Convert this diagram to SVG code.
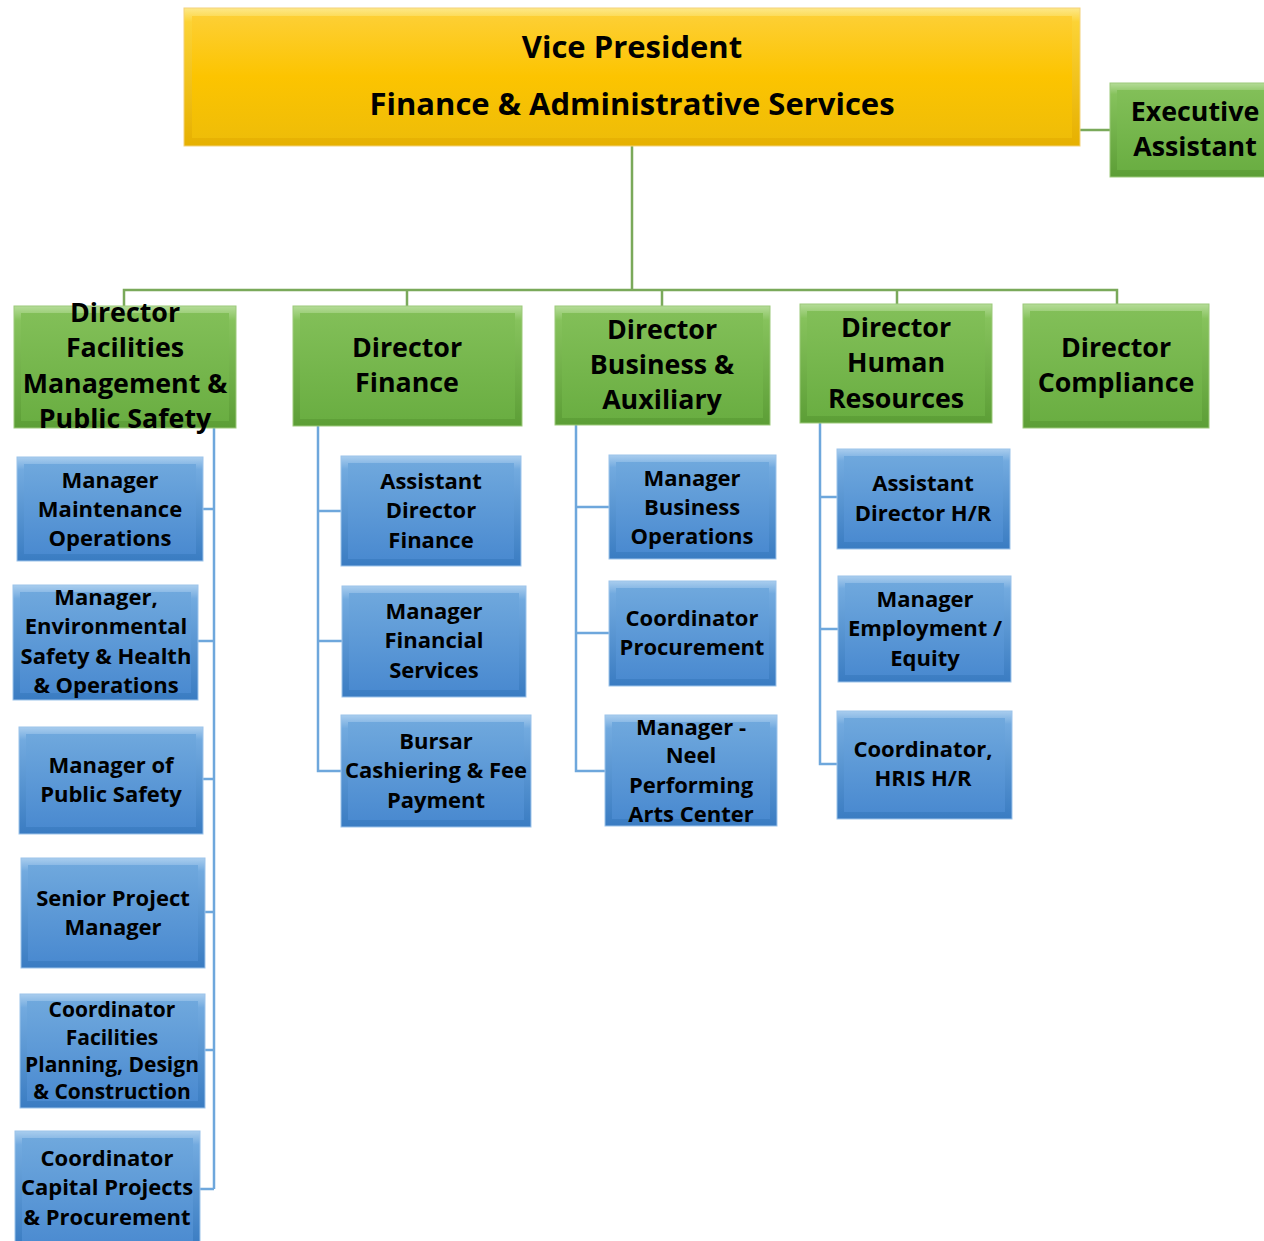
<svg xmlns="http://www.w3.org/2000/svg" width="1264" height="1241" viewBox="0 0 1264 1241">
<defs>
<linearGradient id="yO" x1="0" y1="0" x2="0" y2="1"><stop offset="0" stop-color="#fde88a"/><stop offset="0.1" stop-color="#fcd336"/><stop offset="1" stop-color="#e6b000"/></linearGradient>
<linearGradient id="yI" x1="0" y1="0" x2="0" y2="1"><stop offset="0" stop-color="#fdcf34"/><stop offset="0.5" stop-color="#fcc400"/><stop offset="1" stop-color="#efbd08"/></linearGradient>
<linearGradient id="gO" x1="0" y1="0" x2="0" y2="1"><stop offset="0" stop-color="#b5dc98"/><stop offset="0.12" stop-color="#86c25c"/><stop offset="1" stop-color="#5c9e36"/></linearGradient>
<linearGradient id="gI" x1="0" y1="0" x2="0" y2="1"><stop offset="0" stop-color="#82bf58"/><stop offset="1" stop-color="#6aae42"/></linearGradient>
<linearGradient id="bO" x1="0" y1="0" x2="0" y2="1"><stop offset="0" stop-color="#a9cdee"/><stop offset="0.12" stop-color="#72aadf"/><stop offset="1" stop-color="#3a7cc2"/></linearGradient>
<linearGradient id="bI" x1="0" y1="0" x2="0" y2="1"><stop offset="0" stop-color="#6fa8dd"/><stop offset="1" stop-color="#4a8ad0"/></linearGradient>
</defs>
<style>
.t{font-family:"Open Sans","Noto Sans","DejaVu Sans",sans-serif;font-weight:bold;fill:#000;text-anchor:middle}
.tv{font-size:31px}
.tg{font-size:26.8px}
.tb{font-size:22px}
.ts{font-size:21px}
.gc{fill:none;stroke:#7aa95a;stroke-width:2.5}
.bc{fill:none;stroke:#6ea7dc;stroke-width:2.5}
.yo{fill:url(#yO);stroke:#f3d27a;stroke-width:1}
.yi{fill:url(#yI)}
.go{fill:url(#gO);stroke:#9cc97a;stroke-width:1}
.gi{fill:url(#gI)}
.bo{fill:url(#bO);stroke:#9cc3ea;stroke-width:1}
.bi{fill:url(#bI)}
</style>
<g id="connectors">
<path class="gc" d="M632 146 V290 M124 306 V290 H1117 V306 M407 290 V306 M662 290 V306 M897 290 V304 M1080 130 H1110"/>
<path class="bc" d="M214 428 V1189 M203 509 H214 M198 641 H214 M203 779 H214 M205 912 H214 M205 1050 H214 M200 1189 H214"/>
<path class="bc" d="M318 426 V771 H341 M318 511 H341 M318 641 H342"/>
<path class="bc" d="M576 425 V771 H605 M576 507 H609 M576 633 H609"/>
<path class="bc" d="M820 423 V764 H837 M820 497 H837 M820 629 H838"/>
</g>
<g id="vp"><rect class="yo" x="184" y="8" width="896" height="138"/><rect class="yi" x="192" y="16" width="880" height="122"/>
<text class="t tv" x="632" y="58">Vice President</text><text class="t tv" x="632" y="115">Finance &amp; Administrative Services</text></g>
<g id="ea"><rect class="go" x="1110" y="83" width="160" height="94"/><rect class="gi" x="1117" y="90" width="150" height="80"/>
<text class="t tg" x="1195" y="121">Executive</text><text class="t tg" x="1195" y="156">Assistant</text></g>

<g id="d1"><rect class="go" x="14" y="306" width="222" height="122"/><rect class="gi" x="21" y="313" width="208" height="108"/>
<text class="t tg" x="125" y="322">Director</text><text class="t tg" x="125" y="357">Facilities</text><text class="t tg" x="125" y="393">Management &amp;</text><text class="t tg" x="125" y="428">Public Safety</text></g>
<g id="d2"><rect class="go" x="293" y="306" width="229" height="120"/><rect class="gi" x="300" y="313" width="215" height="106"/>
<text class="t tg" x="407" y="357">Director</text><text class="t tg" x="407" y="392">Finance</text></g>
<g id="d3"><rect class="go" x="555" y="306" width="215" height="119"/><rect class="gi" x="562" y="313" width="201" height="105"/>
<text class="t tg" x="662" y="339">Director</text><text class="t tg" x="662" y="374">Business &amp;</text><text class="t tg" x="662" y="409">Auxiliary</text></g>
<g id="d4"><rect class="go" x="800" y="304" width="192" height="119"/><rect class="gi" x="807" y="311" width="178" height="105"/>
<text class="t tg" x="896" y="337">Director</text><text class="t tg" x="896" y="372">Human</text><text class="t tg" x="896" y="408">Resources</text></g>
<g id="d5"><rect class="go" x="1023" y="304" width="186" height="124"/><rect class="gi" x="1030" y="311" width="172" height="110"/>
<text class="t tg" x="1116" y="357">Director</text><text class="t tg" x="1116" y="392">Compliance</text></g>

<g id="f1"><rect class="bo" x="17" y="457" width="186" height="104"/><rect class="bi" x="24" y="464" width="172" height="90"/>
<text class="t tb" x="110" y="488">Manager</text><text class="t tb" x="110" y="517">Maintenance</text><text class="t tb" x="110" y="546">Operations</text></g>
<g id="f2"><rect class="bo" x="13" y="585" width="185" height="115"/><rect class="bi" x="20" y="592" width="171" height="101"/>
<text class="t tb" x="106" y="605">Manager,</text><text class="t tb" x="106" y="634">Environmental</text><text class="t tb" x="106" y="664">Safety &amp; Health</text><text class="t tb" x="106" y="693">&amp; Operations</text></g>
<g id="f3"><rect class="bo" x="19" y="727" width="184" height="107"/><rect class="bi" x="26" y="734" width="170" height="93"/>
<text class="t tb" x="111" y="773">Manager of</text><text class="t tb" x="111" y="802">Public Safety</text></g>
<g id="f4"><rect class="bo" x="21" y="858" width="184" height="110"/><rect class="bi" x="28" y="865" width="170" height="96"/>
<text class="t tb" x="113" y="906">Senior Project</text><text class="t tb" x="113" y="935">Manager</text></g>
<g id="f5"><rect class="bo" x="20" y="994" width="185" height="114"/><rect class="bi" x="27" y="1001" width="171" height="100"/>
<text class="t ts" x="112" y="1017">Coordinator</text><text class="t ts" x="112" y="1045">Facilities</text><text class="t ts" x="112" y="1072">Planning, Design</text><text class="t ts" x="112" y="1099">&amp; Construction</text></g>
<g id="f6"><rect class="bo" x="15" y="1131" width="185" height="115"/><rect class="bi" x="22" y="1138" width="171" height="110"/>
<text class="t tb" x="107" y="1166">Coordinator</text><text class="t tb" x="107" y="1195">Capital Projects</text><text class="t tb" x="107" y="1225">&amp; Procurement</text></g>

<g id="c1"><rect class="bo" x="341" y="456" width="180" height="110"/><rect class="bi" x="348" y="463" width="166" height="96"/>
<text class="t tb" x="431" y="489">Assistant</text><text class="t tb" x="431" y="518">Director</text><text class="t tb" x="431" y="548">Finance</text></g>
<g id="c2"><rect class="bo" x="342" y="586" width="184" height="111"/><rect class="bi" x="349" y="593" width="170" height="97"/>
<text class="t tb" x="434" y="619">Manager</text><text class="t tb" x="434" y="648">Financial</text><text class="t tb" x="434" y="678">Services</text></g>
<g id="c3"><rect class="bo" x="341" y="715" width="190" height="112"/><rect class="bi" x="348" y="722" width="176" height="98"/>
<text class="t tb" x="436" y="749">Bursar</text><text class="t tb" x="436" y="778">Cashiering &amp; Fee</text><text class="t tb" x="436" y="808">Payment</text></g>

<g id="e1"><rect class="bo" x="609" y="455" width="167" height="104"/><rect class="bi" x="616" y="462" width="153" height="90"/>
<text class="t tb" x="692" y="486">Manager</text><text class="t tb" x="692" y="515">Business</text><text class="t tb" x="692" y="544">Operations</text></g>
<g id="e2"><rect class="bo" x="609" y="581" width="167" height="105"/><rect class="bi" x="616" y="588" width="153" height="91"/>
<text class="t tb" x="692" y="626">Coordinator</text><text class="t tb" x="692" y="655">Procurement</text></g>
<g id="e3"><rect class="bo" x="605" y="715" width="172" height="111"/><rect class="bi" x="612" y="722" width="158" height="97"/>
<text class="t tb" x="691" y="735">Manager -</text><text class="t tb" x="691" y="763">Neel</text><text class="t tb" x="691" y="793">Performing</text><text class="t tb" x="691" y="822">Arts Center</text></g>

<g id="h1"><rect class="bo" x="837" y="449" width="173" height="100"/><rect class="bi" x="844" y="456" width="159" height="86"/>
<text class="t tb" x="923" y="491">Assistant</text><text class="t tb" x="923" y="521">Director H/R</text></g>
<g id="h2"><rect class="bo" x="838" y="576" width="173" height="106"/><rect class="bi" x="845" y="583" width="159" height="92"/>
<text class="t tb" x="925" y="607">Manager</text><text class="t tb" x="925" y="636">Employment /</text><text class="t tb" x="925" y="666">Equity</text></g>
<g id="h3"><rect class="bo" x="837" y="711" width="175" height="108"/><rect class="bi" x="844" y="718" width="161" height="94"/>
<text class="t tb" x="923" y="757">Coordinator,</text><text class="t tb" x="923" y="786">HRIS H/R</text></g>
</svg>
